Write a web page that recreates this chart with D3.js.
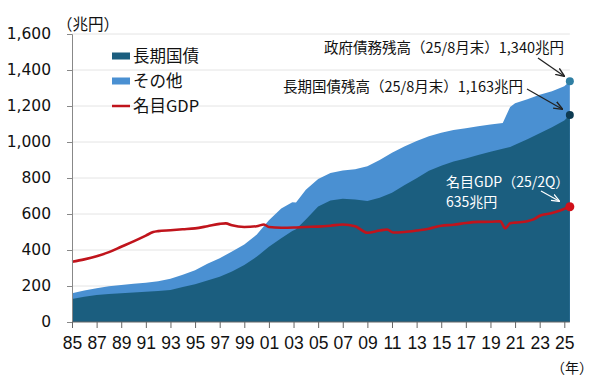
<!DOCTYPE html>
<html>
<head>
<meta charset="utf-8">
<script src="https://cdn.jsdelivr.net/npm/d3@7"></script>
<style>
  html, body { margin: 0; padding: 0; background: #fff; }
  svg { display: block; }
</style>
</head>
<body>
<svg id="chart" width="600" height="383"></svg>
<script>
// ---- Data ----
const debtYears = [1985,1986,1987,1988,1989,1990,1991,1992,1993,1994,1995,1996,1997,1998,1999,2000,2001,2002,2002.9,2003.2,2004,2005,2006,2007,2008,2009,2010,2011,2012,2013,2014,2015,2016,2017,2018,2019,2020,2020.6,2021,2022,2023,2024,2025,2025.45];
const totalDebt = [160,175,188,198,206,212,218,227,240,262,288,324,354,392,430,485,565,630,665,664,735,795,828,842,848,865,900,940,975,1005,1032,1052,1066,1077,1088,1097,1105,1195,1215,1238,1262,1282,1310,1338];
const longTermDebt = [128,140,150,155,160,164,168,172,178,195,210,230,252,280,316,362,418,465,505,515,570,641,675,685,680,672,690,718,760,798,840,868,892,909,928,946,962,972,985,1015,1048,1082,1120,1150];

const gdpYears = [1985,1986,1987,1988,1989,1990,1991,1991.6,1992,1993,1994,1995,1996,1997,1997.5,1998,1999,2000,2000.6,2001,2002,2003,2004,2005,2006,2007,2008,2009,2010,2010.6,2011.1,2012,2013,2014,2015,2016,2017,2018,2019,2019.8,2020.2,2020.6,2021,2022,2022.5,2023,2024,2025.45];
const nominalGDP = [335,348,365,388,418,448,480,500,505,510,515,520,532,545,548,537,528,532,542,528,524,525,528,530,535,542,532,496,508,514,497,500,508,518,535,540,550,556,557,560,520,548,552,560,570,590,605,640];

const yTicks = [0,200,400,600,800,1000,1200,1400,1600];
const xTicks = [1985,1987,1989,1991,1993,1995,1997,1999,2001,2003,2005,2007,2009,2011,2013,2015,2017,2019,2021,2023,2025];

const seriesNames = ["長期国債","その他","名目GDP"];
const unitLabel = "（兆円）";
const yearLabel = "（年）";
const annoTotal = "政府債務残高（25/8月末）1,340兆円";
const annoLong = "長期国債残高（25/8月末）1,163兆円";
const annoGdp1 = "名目GDP（25/2Q）";
const annoGdp2 = "635兆円";

// ---- Drawing ----
const colDark = "#1b5e7f";
const colLight = "#4a90d2";
const colRed = "#c0141c";
const cjk = "'Noto Sans CJK JP', 'Noto Sans', sans-serif";

const svg = d3.select("#chart");
const x = d3.scaleLinear().domain([1985, 2025]).range([72, 564.3]);
const y = d3.scaleLinear().domain([0, 1600]).range([322, 34]);

// gridlines
svg.append("g").selectAll("line").data(yTicks.filter(d => d > 0)).join("line")
  .attr("x1", 72).attr("x2", x(2025.45))
  .attr("y1", d => y(d)).attr("y2", d => y(d))
  .attr("stroke", "#e4e4e4").attr("stroke-width", 1);

const debt = debtYears.map((yr, i) => ({yr, total: totalDebt[i], lt: longTermDebt[i]}));
const gdp = gdpYears.map((yr, i) => ({yr, v: nominalGDP[i]}));

svg.append("path").datum(debt)
  .attr("fill", colLight)
  .attr("d", d3.area().x(d => x(d.yr)).y0(y(0)).y1(d => y(d.total)));
svg.append("path").datum(debt)
  .attr("fill", colDark)
  .attr("d", d3.area().x(d => x(d.yr)).y0(y(0)).y1(d => y(d.lt)));

svg.append("path").datum(gdp)
  .attr("fill", "none").attr("stroke", colRed).attr("stroke-width", 2.6)
  .attr("stroke-linejoin", "round")
  .attr("d", d3.line().curve(d3.curveMonotoneX).x(d => x(d.yr)).y(d => y(d.v)));

// axes
const yAxis = svg.append("g").attr("transform", "translate(72,0)")
  .call(d3.axisLeft(y).tickValues(yTicks).tickFormat(d3.format(",")).tickSize(5).tickPadding(16));
yAxis.select(".domain").attr("stroke", "#888");
yAxis.selectAll(".tick line").attr("stroke", "#888");
yAxis.selectAll("text").attr("font-family", "'DejaVu Sans', sans-serif").attr("font-size", 15.5).attr("fill", "#111");

const xAxis = svg.append("g").attr("transform", "translate(0,322)")
  .call(d3.axisBottom(x).tickValues(xTicks).tickFormat(d => String(d % 100).padStart(2, "0")).tickSize(6).tickPadding(9));
xAxis.select(".domain").attr("d", `M72,0H${x(2025.45)}`).attr("stroke", "#666");
xAxis.selectAll(".tick line").attr("stroke", "#666");
xAxis.selectAll("text").attr("font-family", "'Liberation Sans', Arial, sans-serif").attr("font-size", 17.5).attr("fill", "#111");

// end dots
const last = debt[debt.length - 1];
const lastG = gdp[gdp.length - 1];
svg.append("circle").attr("cx", x(last.yr)).attr("cy", y(last.total)).attr("r", 4).attr("fill", "#2f7fa3");
svg.append("circle").attr("cx", x(last.yr)).attr("cy", y(last.lt)).attr("r", 4).attr("fill", "#0e3b52");
svg.append("circle").attr("cx", x(lastG.yr)).attr("cy", y(lastG.v)).attr("r", 4.5).attr("fill", "#d0101a");

// unit labels
svg.append("text").attr("x", 57).attr("y", 30).attr("font-family", cjk).attr("font-size", 15.5).attr("fill", "#111").text(unitLabel);
svg.append("text").attr("x", 551).attr("y", 373).attr("font-family", cjk).attr("font-size", 14).attr("fill", "#111").text(yearLabel);

// legend
const leg = svg.append("g");
const legRows = [56, 81, 106];
leg.append("rect").attr("x", 112).attr("y", legRows[0] - 3.5).attr("width", 18).attr("height", 7).attr("fill", colDark);
leg.append("rect").attr("x", 112).attr("y", legRows[1] - 3.5).attr("width", 18).attr("height", 7).attr("fill", colLight);
leg.append("line").attr("x1", 112).attr("x2", 130).attr("y1", legRows[2]).attr("y2", legRows[2]).attr("stroke", colRed).attr("stroke-width", 2.5);
seriesNames.forEach((n, i) => {
  leg.append("text").attr("x", 133).attr("y", legRows[i]).attr("dy", "0.36em")
    .attr("font-family", cjk).attr("font-size", 16.5).attr("fill", "#111").text(n);
});

// arrow markers
const defs = svg.append("defs");
[["arrBlack", "#222"], ["arrWhite", "#fff"]].forEach(([id, c]) => {
  defs.append("marker").attr("id", id).attr("viewBox", "0 0 10 10").attr("refX", 9).attr("refY", 5)
    .attr("markerWidth", 7).attr("markerHeight", 7).attr("orient", "auto")
    .append("path").attr("d", "M0,1 L10,5 L0,9").attr("fill", "none").attr("stroke", c).attr("stroke-width", 1.5);
});

// annotations
svg.append("text").attr("x", 564).attr("y", 48).attr("dy", "0.36em").attr("text-anchor", "end")
  .attr("font-family", cjk).attr("font-size", 14.5).attr("fill", "#111").text(annoTotal);
svg.append("text").attr("x", 523).attr("y", 87).attr("dy", "0.36em").attr("text-anchor", "end")
  .attr("font-family", cjk).attr("font-size", 14.5).attr("fill", "#111").text(annoLong);
svg.append("line").attr("x1", 538).attr("y1", 58).attr("x2", 564).attr("y2", 76)
  .attr("stroke", "#222").attr("stroke-width", 1.3).attr("marker-end", "url(#arrBlack)");
svg.append("line").attr("x1", 527).attr("y1", 89).attr("x2", 562).attr("y2", 109)
  .attr("stroke", "#222").attr("stroke-width", 1.3).attr("marker-end", "url(#arrBlack)");

svg.append("text").attr("x", 446).attr("y", 182).attr("dy", "0.36em")
  .attr("font-family", cjk).attr("font-size", 14).attr("fill", "#fff").text(annoGdp1);
svg.append("text").attr("x", 446).attr("y", 202).attr("dy", "0.36em")
  .attr("font-family", cjk).attr("font-size", 14).attr("fill", "#fff").text(annoGdp2);
svg.append("line").attr("x1", 541).attr("y1", 191).attr("x2", 559).attr("y2", 201)
  .attr("stroke", "#fff").attr("stroke-width", 1.2).attr("marker-end", "url(#arrWhite)");
</script>
</body>
</html>
